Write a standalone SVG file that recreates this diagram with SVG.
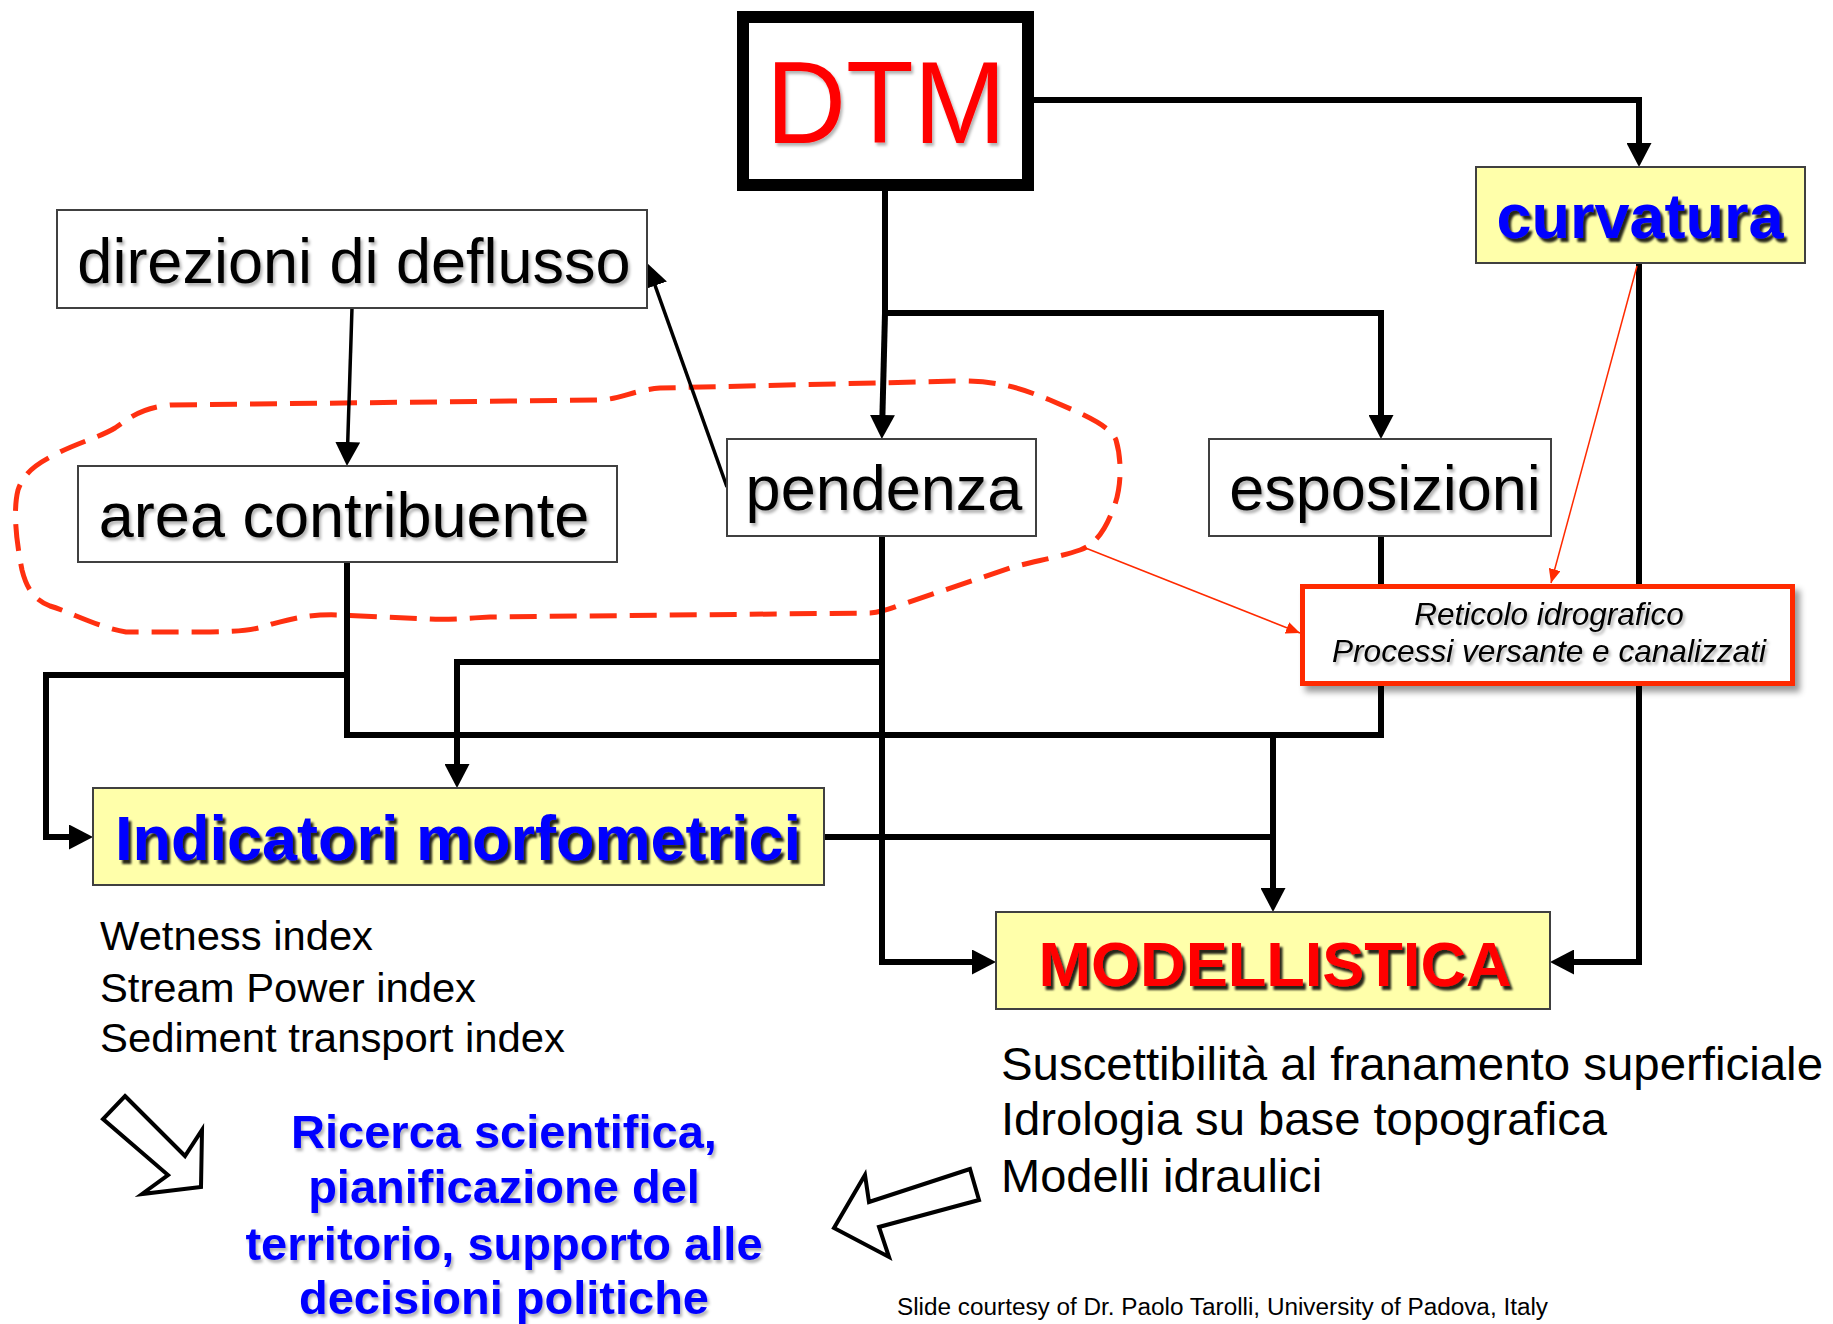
<svg xmlns="http://www.w3.org/2000/svg" width="1833" height="1324" viewBox="0 0 1833 1324">
<defs>
<style>
.t{font-family:"Liberation Sans",Arial,sans-serif;}
.box{fill:#fff;stroke:#404040;stroke-width:2;}
.ybox{fill:#ffffaa;stroke:#404040;stroke-width:2;}
.nt{font-size:63px;fill:#000;text-anchor:middle;}
.head{font-weight:bold;font-size:63px;text-anchor:middle;}
.c{fill:none;stroke:#000;stroke-width:6;stroke-linejoin:miter;}
.ct{fill:none;stroke:#000;stroke-width:3.5;}
.cr{fill:none;stroke:#ff2a00;stroke-width:1.5;}
.list{font-size:41px;fill:#000;}
.rl{font-size:47px;fill:#000;}
.blue{font-size:47px;font-weight:bold;fill:#0000ff;text-anchor:middle;}
.hollow{fill:#fff;stroke:#000;stroke-width:4;stroke-linejoin:miter;}
</style>
<marker id="ah" viewBox="0 0 24 25" refX="17" refY="12.5" markerWidth="24" markerHeight="25" markerUnits="userSpaceOnUse" orient="auto"><path d="M0,0 L24,12.5 L0,25 z" fill="#000"/></marker>
<marker id="ahr" viewBox="0 0 14 12" refX="14" refY="6" markerWidth="14" markerHeight="12" markerUnits="userSpaceOnUse" orient="auto"><path d="M0,0 L14,6 L0,12 z" fill="#ff2a00"/></marker>
<filter id="sh" x="-10%" y="-20%" width="130%" height="160%"><feGaussianBlur in="SourceAlpha" stdDeviation="1.5"/><feOffset dx="2" dy="3" result="b"/><feFlood flood-color="#000" flood-opacity="0.3"/><feComposite in2="b" operator="in"/><feMerge><feMergeNode/><feMergeNode in="SourceGraphic"/></feMerge></filter>
<filter id="shs" x="-10%" y="-20%" width="130%" height="160%"><feGaussianBlur in="SourceAlpha" stdDeviation="1"/><feOffset dx="3" dy="4" result="b"/><feFlood flood-color="#000" flood-opacity="0.85"/><feComposite in2="b" operator="in"/><feMerge><feMergeNode/><feMergeNode in="SourceGraphic"/></feMerge></filter>
<filter id="bsh" x="-10%" y="-20%" width="130%" height="160%"><feGaussianBlur in="SourceAlpha" stdDeviation="3"/><feOffset dx="5" dy="6" result="b"/><feFlood flood-color="#000" flood-opacity="0.4"/><feComposite in2="b" operator="in"/><feMerge><feMergeNode/><feMergeNode in="SourceGraphic"/></feMerge></filter>
</defs>
<rect width="1833" height="1324" fill="#fff"/>

<path id="loop" d="M170,405 L600,400 C620,399 635,390 660,388 L960,381 C1000,381 1020,388 1050,400 C1080,413 1110,425 1116,440 C1122,460 1122,490 1112,512 C1105,530 1095,545 1080,550 C1060,557 1030,562 1010,568 L900,605 C890,609 880,612 870,613 L490,617 C470,618 450,620 430,619 L340,615 C310,614 295,618 272,624 C255,630 240,632 200,632 L126,632 C100,628 70,612 50,606 C35,600 27,590 22,570 C16,540 13,510 18,490 C25,470 40,462 60,452 C80,442 100,437 115,428 C130,418 140,408 170,405 Z" fill="none" stroke="#ff3010" stroke-width="5" stroke-dasharray="27 13"/>

<g id="connectors">
<path class="c" d="M1034,100 H1639 V160" marker-end="url(#ah)"/>
<path class="c" d="M885,191 V313 H1381 V432" marker-end="url(#ah)"/>
<path class="c" d="M885,313 L882,432" marker-end="url(#ah)"/>
<path class="ct" d="M352,308 L347.2,459" marker-end="url(#ah)"/>
<path class="ct" d="M727,487 L649.4,269.6" marker-end="url(#ah)"/>
<path class="c" d="M1381,536 V735 H347 V562"/>
<path class="c" d="M347,675 H46 V837 H86" marker-end="url(#ah)"/>
<path class="c" d="M882,536 V962 H989" marker-end="url(#ah)"/>
<path class="c" d="M882,662 H457 V781" marker-end="url(#ah)"/>
<path class="c" d="M1273,735 V905" marker-end="url(#ah)"/>
<path class="c" d="M824,837 H1273"/>
<path class="c" d="M1639,263 V962 H1557" marker-end="url(#ah)"/>
<path class="cr" d="M1637,266 L1551,583" marker-end="url(#ahr)"/>
<path class="cr" d="M1083,547 L1300,633" marker-end="url(#ahr)"/>
</g>

<g id="dtm">
<rect x="743" y="17" width="285" height="168" fill="#fff" stroke="#000" stroke-width="12"/>
<text class="t" x="886" y="143" font-size="117" fill="#ff0000" text-anchor="middle" textLength="240" lengthAdjust="spacingAndGlyphs" filter="url(#sh)">DTM</text>
</g>

<g id="curvatura">
<rect class="ybox" x="1476" y="167" width="329" height="96"/>
<text class="t head" x="1640" y="238" fill="#0000ff" filter="url(#shs)">curvatura</text>
</g>

<g id="direzioni">
<rect class="box" x="57" y="210" width="590" height="98"/>
<text class="t nt" x="354" y="283" filter="url(#sh)">direzioni di deflusso</text>
</g>

<g id="area">
<rect class="box" x="78" y="466" width="539" height="96"/>
<text class="t nt" x="344" y="537" filter="url(#sh)">area contribuente</text>
</g>

<g id="pendenza">
<rect class="box" x="727" y="439" width="309" height="97"/>
<text class="t nt" x="884" y="510" filter="url(#sh)">pendenza</text>
</g>

<g id="esposizioni">
<rect class="box" x="1209" y="439" width="342" height="97"/>
<text class="t nt" x="1385" y="510" filter="url(#sh)">esposizioni</text>
</g>

<g id="reticolo">
<rect x="1302.5" y="586.5" width="490" height="97" fill="#fff" stroke="#ff2a00" stroke-width="5" filter="url(#bsh)"/>
<text class="t" x="1549" y="625" font-size="31.5" font-style="italic" text-anchor="middle" filter="url(#sh)">Reticolo idrografico</text>
<text class="t" x="1549" y="662" font-size="31.5" font-style="italic" text-anchor="middle" textLength="434" lengthAdjust="spacingAndGlyphs" filter="url(#sh)">Processi versante e canalizzati</text>
</g>

<g id="indicatori">
<rect class="ybox" x="93" y="788" width="731" height="97"/>
<text class="t head" x="458" y="860" fill="#0000ff" textLength="686" lengthAdjust="spacingAndGlyphs" filter="url(#shs)">Indicatori morfometrici</text>
</g>

<g id="modellistica">
<rect class="ybox" x="996" y="912" width="554" height="97"/>
<text class="t head" x="1275" y="986" font-size="65" fill="#ff0000" textLength="473" lengthAdjust="spacingAndGlyphs" filter="url(#shs)">MODELLISTICA</text>
</g>

<g id="indici">
<text class="t list" x="100" y="950" textLength="273" lengthAdjust="spacingAndGlyphs">Wetness index</text>
<text class="t list" x="100" y="1002" textLength="376" lengthAdjust="spacingAndGlyphs">Stream Power index</text>
<text class="t list" x="100" y="1052" textLength="465" lengthAdjust="spacingAndGlyphs">Sediment transport index</text>
</g>

<g id="applicazioni">
<text class="t rl" x="1001" y="1080" textLength="822" lengthAdjust="spacingAndGlyphs">Suscettibilità al franamento superficiale</text>
<text class="t rl" x="1001" y="1135" textLength="606" lengthAdjust="spacingAndGlyphs">Idrologia su base topografica</text>
<text class="t rl" x="1001" y="1192">Modelli idraulici</text>
</g>

<g id="freccia1"><polygon class="hollow" points="125,1096 185,1156 202,1130 201,1187 142,1194 168,1175 103,1119"/></g>
<g id="freccia2"><polygon class="hollow" points="970,1169 869,1202 865,1175 834,1228 889,1257 879,1227 979,1200"/></g>

<g id="ricerca" filter="url(#sh)">
<text class="t blue" x="504" y="1148">Ricerca scientifica,</text>
<text class="t blue" x="504" y="1203">pianificazione del</text>
<text class="t blue" x="504" y="1260">territorio, supporto alle</text>
<text class="t blue" x="504" y="1314">decisioni politiche</text>
</g>

<text class="t" x="897" y="1315" font-size="23" textLength="651" lengthAdjust="spacingAndGlyphs">Slide courtesy of Dr. Paolo Tarolli, University of Padova, Italy</text>
</svg>
